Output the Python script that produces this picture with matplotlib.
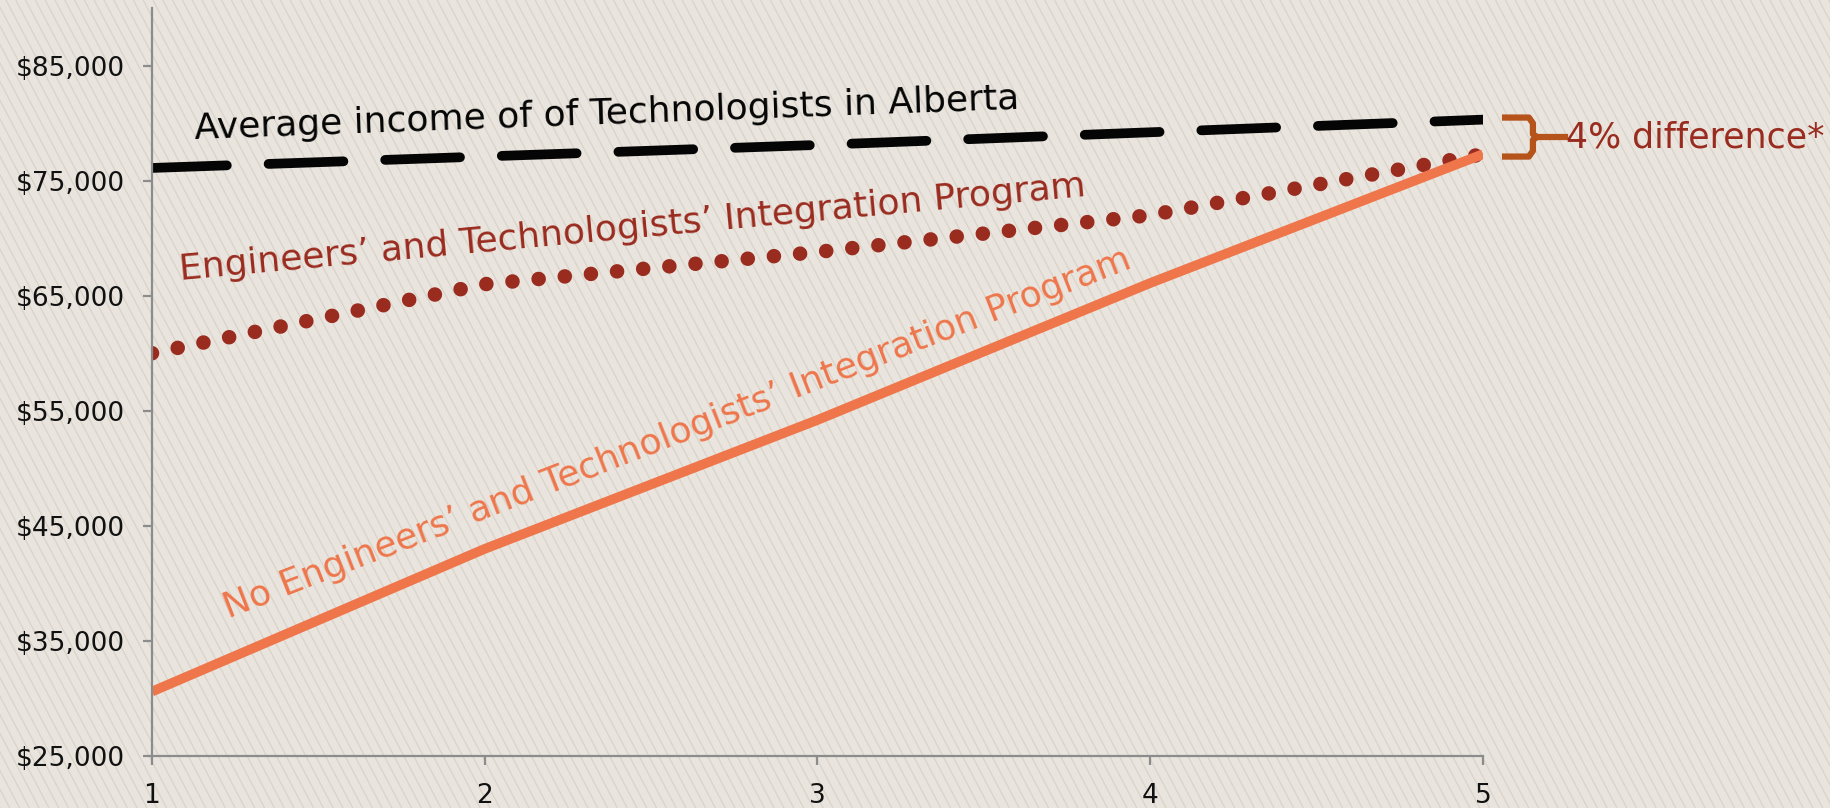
import matplotlib

matplotlib.use("Agg")
import matplotlib.pyplot as plt
import numpy as np
from matplotlib.collections import LineCollection

# --- data ---
years = [1, 2, 3, 4, 5]
avg_alberta = [76100, 77100, 78100, 79200, 80300]
with_program = [60000, 66000, 68800, 72000, 77300]
without_program = [30600, 43000, 54200, 66100, 77300]
y_ticks = [25000, 35000, 45000, 55000, 65000, 75000, 85000]

BG = "#e9e5de"
HATCH = "#d9d3c9"
GRAY = "#8c8c8c"
BLACK = "#050505"
DARKRED = "#9a2b1f"
ORANGE = "#ef764b"
BRACE = "#b5531b"

W, H = 1831, 808
fig = plt.figure(figsize=(W / 100, H / 100), dpi=100, facecolor=BG)

# diagonal pinstripe background
segs = []
step, slope = 9.8, 1.9
for x0 in np.arange(-H / slope, W + 10, step):
    segs.append([(x0 / W, 1.0), ((x0 + H / slope) / W, 0.0)])
fig.add_artist(LineCollection(segs, colors=HATCH, linewidths=0.9,
                              transform=fig.transFigure, zorder=-10))

ax = fig.add_axes([152 / W, 1 - 756 / H, (1483 - 152) / W, (756 - 8) / H])
ax.set_facecolor("none")
ax.set_xlim(1, 5)
ax.set_ylim(25000, 90000)

for s in ("top", "right"):
    ax.spines[s].set_visible(False)
for s in ("left", "bottom"):
    ax.spines[s].set_color(GRAY)
    ax.spines[s].set_linewidth(1.6)

ax.set_xticks(years)
ax.set_yticks(y_ticks)
ax.set_yticklabels([f"${v:,}" for v in y_ticks])
ax.tick_params(axis="both", colors=GRAY, length=6.5, width=1.6, direction="out",
               labelsize=19, labelcolor="#111")
ax.tick_params(axis="y", pad=13)
ax.tick_params(axis="x", pad=13)

# lines
ax.plot(years, avg_alberta, color=BLACK, lw=7, linestyle=(0, (7.7, 4.3)),
        dash_capstyle="round")
ax.plot(years, with_program, color=DARKRED, lw=10.5, linestyle=(0, (0.001, 1.8)),
        dash_capstyle="round")
ax.plot(years, without_program, color=ORANGE, lw=7, solid_capstyle="butt")

# in-line labels
ax.text(2.367, 80830, "Average income of of Technologists in Alberta",
        color=BLACK, fontsize=26, rotation=2.1, ha="center", va="center",
        rotation_mode="anchor")
ax.text(2.443, 70900, "Engineers\u2019 and Technologists\u2019 Integration Program",
        color=DARKRED, fontsize=26, rotation=5.3, ha="center", va="center",
        rotation_mode="anchor")
ax.text(2.578, 53000, "No Engineers\u2019 and Technologists\u2019 Integration Program",
        color=ORANGE, fontsize=26, rotation=21.2, ha="center", va="center",
        rotation_mode="anchor")

# brace marking the gap at year 5
top, bot = 80480, 77090
mid = (top + bot) / 2
ax.plot([5.057, 5.138, 5.15, 5.15, 5.162], [top, top, top - 500, mid + 250, mid],
        color=BRACE, lw=4.5, clip_on=False, solid_joinstyle="round",
        solid_capstyle="butt")
ax.plot([5.057, 5.138, 5.15, 5.15, 5.162], [bot, bot, bot + 500, mid - 250, mid],
        color=BRACE, lw=4.5, clip_on=False, solid_joinstyle="round",
        solid_capstyle="butt")
ax.plot([5.155, 5.246], [mid, mid], color=BRACE, lw=4.5, clip_on=False)
ax.text(5.249, mid, "4% difference*", color=DARKRED, fontsize=25,
        ha="left", va="center", clip_on=False)

fig.savefig("out.png", dpi=100, facecolor=BG)
